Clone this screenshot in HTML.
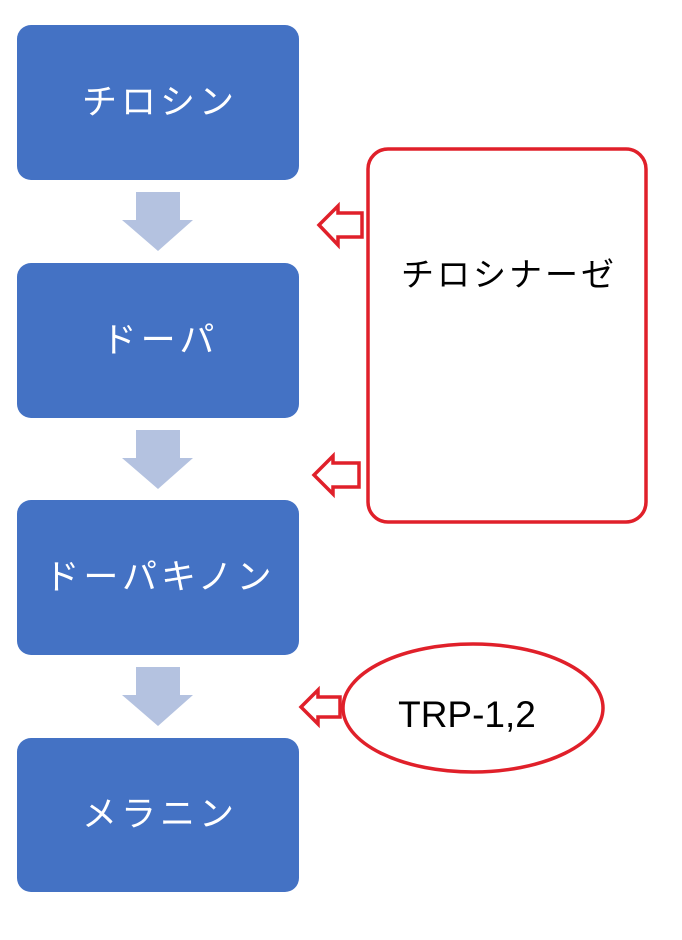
<!DOCTYPE html>
<html><head><meta charset="utf-8"><style>
body{margin:0;background:#fff;width:682px;height:935px;overflow:hidden}
</style></head><body>
<svg width="682" height="935" xmlns="http://www.w3.org/2000/svg" font-family="'Liberation Sans','Noto Sans CJK JP',sans-serif">
<g fill="#4472C4">
<rect x="17" y="25" width="282" height="155" rx="14"/>
<rect x="17" y="263" width="282" height="155" rx="14"/>
<rect x="17" y="500" width="282" height="155" rx="14"/>
<rect x="17" y="738" width="282" height="154" rx="14"/>
</g>
<g fill="#B4C2E0">
<polygon points="136,192 180,192 180,220 193,220 158,251 122,220 136,220"/>
<polygon points="136,430 180,430 180,458 193,458 158,489 122,458 136,458"/>
<polygon points="136,667 180,667 180,695 193,695 158,726 122,695 136,695"/>
</g>
<g fill="#fff" font-size="35" text-anchor="middle" letter-spacing="4">
<text x="160" y="114">チロシン</text>
<text x="160" y="352">ドーパ</text>
<text x="160" y="589">ドーパキノン</text>
<text x="160" y="826">メラニン</text>
</g>
<g fill="none" stroke="#E0202A" stroke-width="3.5" stroke-linejoin="miter">
<rect x="368" y="149" width="278" height="373" rx="20"/>
<ellipse cx="473" cy="708" rx="130" ry="64"/>
<polygon points="319,225 338,206 338,213 362,213 362,237 338,237 338,245"/>
<polygon points="314,475 333,456 333,463 359,463 359,487 333,487 333,494"/>
<polygon points="301,707 318,690 318,697 340,697 340,717 318,717 318,724"/>
</g>
<text x="509" y="286" font-size="33" text-anchor="middle" fill="#000" letter-spacing="3">チロシナーゼ</text>
<text x="467" y="727" font-size="37" text-anchor="middle" fill="#000">TRP-1,2</text>
</svg>
</body></html>
